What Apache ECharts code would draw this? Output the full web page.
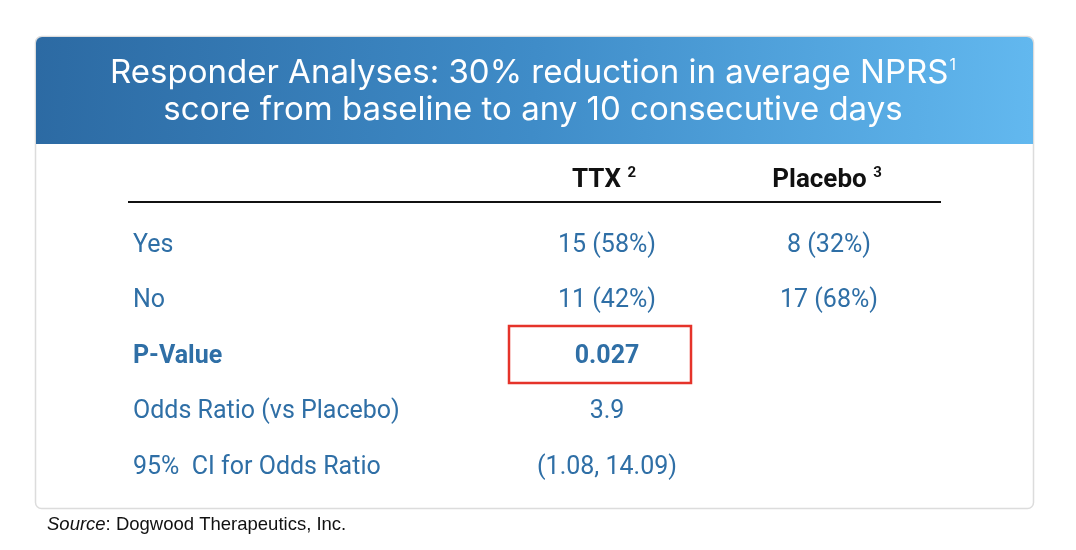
<!DOCTYPE html>
<html>
<head>
<meta charset="utf-8">
<script src="https://cdn.jsdelivr.net/npm/echarts@6/dist/echarts.min.js"></script>
<style>
  html, body { margin: 0; padding: 0; background: #fff; }
  #main { width: 1076px; height: 550px; }
</style>
</head>
<body>
<div id="main"></div>
<script>
// table content
const titleLines = ['Responder Analyses: 30% reduction in average NPRS', 'score from baseline to any 10 consecutive days']
const columnHeaders = ['TTX', 'Placebo']
const columnNotes = ['2', '3']
const rowLabels = ['Yes', 'No', 'P-Value', 'Odds Ratio (vs Placebo)', '95%  CI for Odds Ratio']
const ttxValues = ['15 (58%)', '11 (42%)', '0.027', '3.9', '(1.08, 14.09)']
const placeboValues = ['8 (32%)', '17 (68%)', '', '', '']
const boldRows = ['P-Value']
const highlightRow = 'P-Value'
const sourceText = 'Dogwood Therapeutics, Inc.'

const blue = '#2f6fa6'
const tableFont = 'Roboto, "Liberation Sans", sans-serif'
const titleFont = 'Inter, "Open Sans", sans-serif'

const rowY = [246, 301, 357, 412, 468]
const colX = [607, 829]

const chart = echarts.init(document.getElementById('main'))

const elements = []

// card
elements.push({
  type: 'rect',
  shape: { x: 35.5, y: 36.5, width: 998, height: 472, r: 6 },
  style: { fill: '#fff', stroke: '#dcdcdc', lineWidth: 1.5 }
})
// header band
elements.push({
  type: 'rect',
  shape: { x: 36, y: 37, width: 997, height: 107, r: [6, 6, 0, 0] },
  style: {
    fill: new echarts.graphic.LinearGradient(0, 0, 1, 0.4, [
      { offset: 0, color: '#2c6aa3' },
      { offset: 0.5, color: '#3f8cc8' },
      { offset: 1, color: '#62b8ef' }
    ])
  }
})
titleLines.forEach((line, i) => {
  elements.push({
    type: 'text',
    x: 533, y: i === 0 ? 73 : 110,
    style: {
      text: i === 0 ? line + '{sup|1}' : line,
      rich: { sup: { fontSize: 16, fill: '#fff', padding: [0, 0, 16, 1], fontFamily: titleFont } },
      fill: '#fff', fontSize: 33, fontFamily: titleFont,
      align: 'center', verticalAlign: 'middle'
    }
  })
})

// column headers
columnHeaders.forEach((h, i) => {
  elements.push({
    type: 'text',
    x: i === 0 ? 604 : 827, y: 180,
    style: {
      text: h + ' {sup|' + columnNotes[i] + '}',
      rich: { sup: { fontSize: 15, fontWeight: 'bold', fill: '#111', padding: [0, 0, 14, 0], fontFamily: tableFont } },
      fill: '#111', fontSize: 26, fontWeight: 'bold', fontFamily: tableFont,
      align: 'center', verticalAlign: 'middle'
    }
  })
})
elements.push({
  type: 'line',
  shape: { x1: 128, y1: 202, x2: 941, y2: 202 },
  style: { stroke: '#111', lineWidth: 2 }
})

// rows
rowLabels.forEach((label, i) => {
  const bold = boldRows.includes(label) ? 'bold' : 'normal'
  elements.push({
    type: 'text', x: 133, y: rowY[i],
    style: { text: label, fill: blue, fontSize: 25, fontWeight: bold, fontFamily: tableFont, align: 'left', verticalAlign: 'middle' }
  })
  ;[ttxValues[i], placeboValues[i]].forEach((v, j) => {
    if (!v) return
    elements.push({
      type: 'text', x: colX[j], y: rowY[i],
      style: { text: v, fill: blue, fontSize: 25, fontWeight: bold, fontFamily: tableFont, align: 'center', verticalAlign: 'middle' }
    })
  })
  if (label === highlightRow) {
    elements.push({
      type: 'rect',
      shape: { x: 509, y: 326, width: 182, height: 57 },
      style: { fill: 'none', stroke: '#e5332a', lineWidth: 2.5 }
    })
  }
})

// source
elements.push({
  type: 'text', x: 47, y: 525,
  style: {
    text: '{i|Source}: ' + sourceText,
    rich: { i: { fontStyle: 'italic', fontSize: 18.5, fill: '#111', fontFamily: '"Liberation Sans", Arial, sans-serif' } },
    fill: '#111', fontSize: 18.5, fontFamily: '"Liberation Sans", Arial, sans-serif',
    align: 'left', verticalAlign: 'middle'
  }
})

chart.setOption({
  animation: false,
  graphic: { elements: elements }
})
</script>
</body>
</html>
